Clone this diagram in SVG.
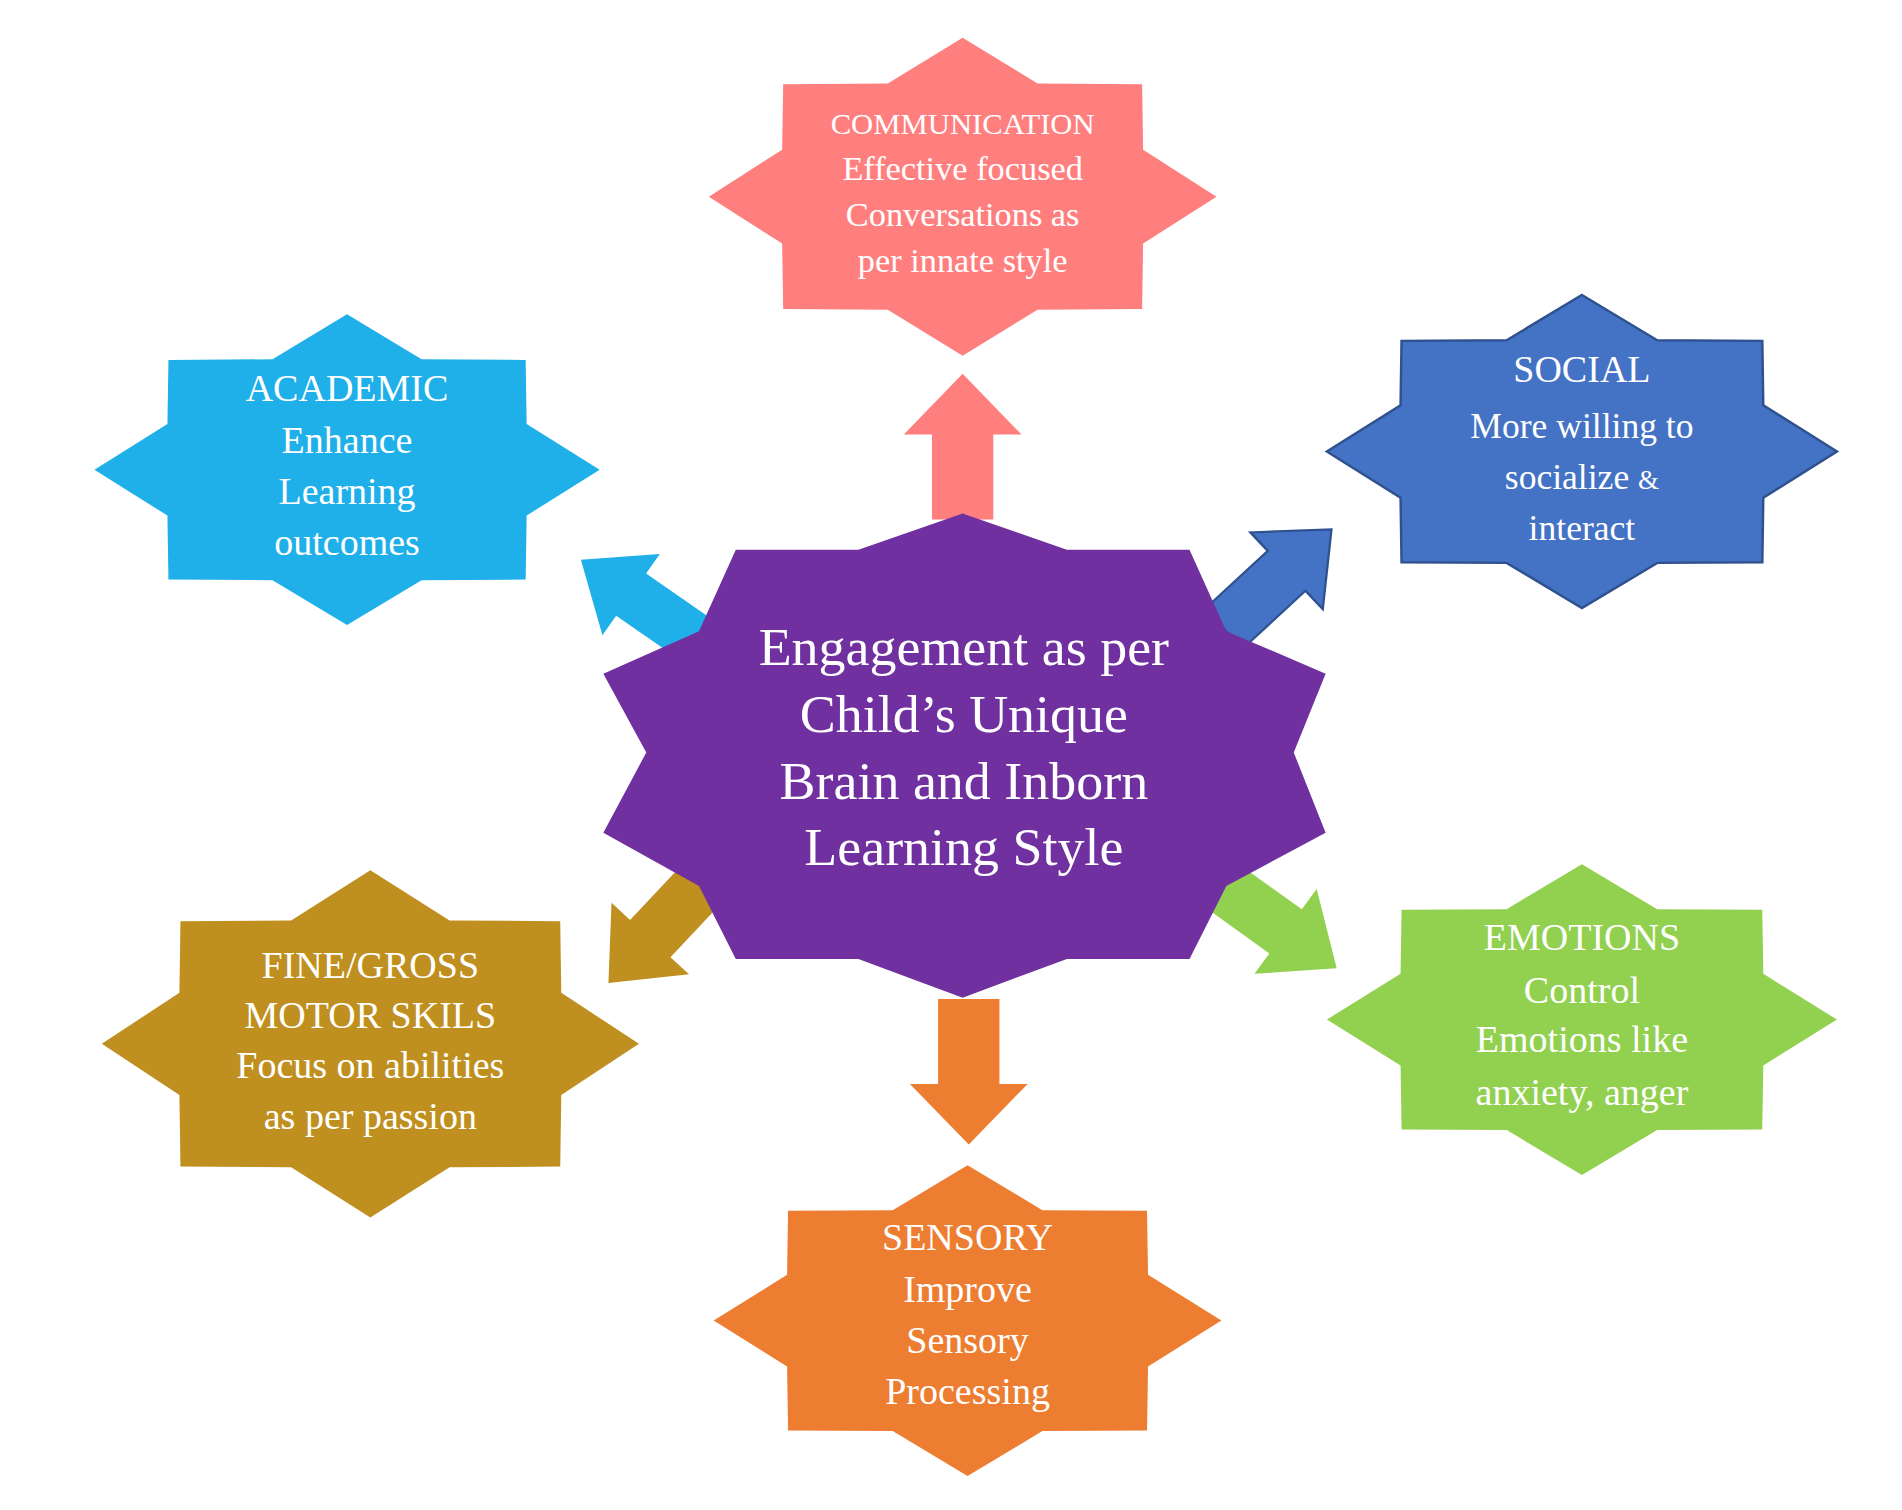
<svg xmlns="http://www.w3.org/2000/svg" xmlns:xlink="http://www.w3.org/1999/xlink" width="1902" height="1510" viewBox="0 0 1902 1510">
<style>
text{font-family:"Liberation Serif","DejaVu Serif",serif;fill:#fff;text-anchor:middle}
.t{font-size:31px}
.c{font-size:44px}
</style>
<defs>
<polygon id="s8" points="0,-1 0.295,-0.711 0.707,-0.707 0.711,-0.295 1,0 0.711,0.295 0.707,0.707 0.295,0.711 0,1 -0.295,0.711 -0.707,0.707 -0.711,0.295 -1,0 -0.711,-0.295 -0.707,-0.707 -0.295,-0.711"/>
<path id="ar" d="M0,-25 L70,-25 L70,-48 L120,0 L70,48 L70,25 L0,25 Z"/>
</defs>
<rect width="1902" height="1510" fill="#fff"/>
<g transform="scale(1.2263,1.2138)">
<g id="connectors">
<use xlink:href="#ar" fill="#FF7F7F" transform="translate(785,428) rotate(-90)"/>
<use xlink:href="#ar" fill="#1FB0EA" transform="translate(572,530) rotate(-145) scale(1,0.85)"/>
<use xlink:href="#ar" fill="#4472C4" stroke="#2F528F" stroke-width="2" transform="translate(998,518) rotate(-43) scale(1,0.9)"/>
<use xlink:href="#ar" fill="#BF8F1F" transform="translate(578,722) rotate(133) scale(1,0.9)"/>
<use xlink:href="#ar" fill="#ED7D31" transform="translate(790,823) rotate(90)"/>
<use xlink:href="#ar" fill="#92D050" transform="translate(990,725) rotate(36) scale(1.03,0.9)"/>
</g>
<g id="center">
<polygon fill="#7030A0" points="600,453 700,453 785,423 870,453 970,453 1000,520 1081,555 1055,620 1081,686 1000,730 970,790 870,790 785,822 700,790 600,790 570,730 492,686 527,620 492,555 570,520"/>
<text class="c" x="786" y="548">Engagement as per</text>
<text class="c" x="786" y="603">Child’s Unique</text>
<text class="c" x="786" y="658">Brain and Inborn</text>
<text class="c" x="786" y="713">Learning Style</text>
</g>
<g id="communication">
<use xlink:href="#s8" fill="#FF7F7F" transform="translate(785,162) scale(207,131)"/>
<text x="785" y="110" font-size="25">COMMUNICATION</text>
<text x="785" y="148" font-size="28">Effective focused</text>
<text x="785" y="186" font-size="28">Conversations as</text>
<text x="785" y="224" font-size="28">per innate style</text>
</g>
<g id="academic">
<use xlink:href="#s8" fill="#1FB0EA" transform="translate(283,387) scale(206,128)"/>
<text class="t" x="283" y="330">ACADEMIC</text>
<text class="t" x="283" y="373">Enhance</text>
<text class="t" x="283" y="415">Learning</text>
<text class="t" x="283" y="457">outcomes</text>
</g>
<g id="social">
<polygon fill="#4472C4" stroke="#2F528F" stroke-width="2" points="1290,243 1351.4,280.3 1437.1,280.8 1437.9,333.9 1498,372 1437.9,410.1 1437.1,463.2 1351.4,463.7 1290,501 1228.6,463.7 1142.9,463.2 1142.1,410.1 1082,372 1142.1,333.9 1142.9,280.8 1228.6,280.3"/>
<text class="t" x="1290" y="315">SOCIAL</text>
<text x="1290" y="361" font-size="29">More willing to</text>
<text x="1290" y="403" font-size="29">socialize <tspan font-size="22">&amp;</tspan></text>
<text x="1290" y="445" font-size="29">interact</text>
</g>
<g id="finemotor">
<use xlink:href="#s8" fill="#BF8F1F" transform="translate(302,860) scale(219,143)"/>
<text class="t" x="302" y="806">FINE/GROSS</text>
<text class="t" x="302" y="847">MOTOR SKILS</text>
<text class="t" x="302" y="888">Focus on abilities</text>
<text class="t" x="302" y="930">as per passion</text>
</g>
<g id="sensory">
<use xlink:href="#s8" fill="#ED7D31" transform="translate(789,1088) scale(207,128)"/>
<text class="t" x="789" y="1030">SENSORY</text>
<text class="t" x="789" y="1073">Improve</text>
<text class="t" x="789" y="1115">Sensory</text>
<text class="t" x="789" y="1157">Processing</text>
</g>
<g id="emotions">
<use xlink:href="#s8" fill="#92D050" transform="translate(1290,840) scale(208,128)"/>
<text class="t" x="1290" y="783">EMOTIONS</text>
<text class="t" x="1290" y="826">Control</text>
<text class="t" x="1290" y="867">Emotions like</text>
<text class="t" x="1290" y="910">anxiety, anger</text>
</g>
</g>
</svg>
